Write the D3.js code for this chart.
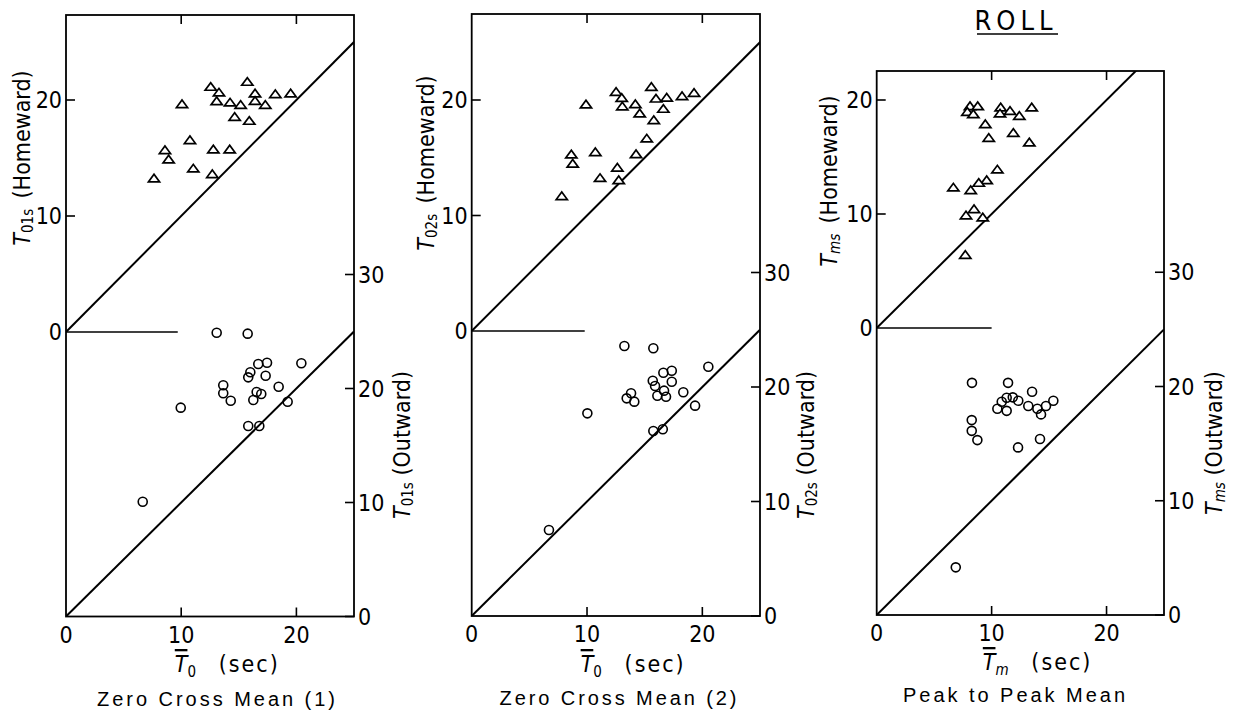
<!DOCTYPE html>
<html><head><meta charset="utf-8">
<script src="https://cdn.jsdelivr.net/npm/d3@7"></script>
<style>
body{margin:0;background:#fff}
svg{display:block}
text{font-family:"Liberation Sans Narrow","Arial Narrow","DejaVu Sans Condensed",sans-serif;fill:#000}
.nm{font-family:"Liberation Sans","Arial",sans-serif}
</style>
</head><body>
<svg id="c" width="1238" height="717"></svg>
<script>
// ---------- data ----------
const panelNames = ["Zero Cross Mean (1)", "Zero Cross Mean (2)", "Peak to Peak Mean"];
const ySubs = ["01s", "02s", "ms"];
const xSubs = ["0", "0", "m"];
const mainTitle = "ROLL";
const xTicks = [0, 10, 20];
const homeTicks = [0, 10, 20];
const outTicks = [0, 10, 20, 30];

// Panel 1: Zero Cross Mean (1)
const p1HomeX = [12.56,15.74,13.28,16.41,18.17,19.5,10.07,13.08,14.24,15.16,16.41,17.3,14.64,15.91,10.76,12.79,14.21,8.59,8.91,11.05,12.7,7.64];
const p1HomeY = [21.15,21.58,20.66,20.58,20.52,20.58,19.66,19.91,19.8,19.59,19.94,19.59,18.56,18.22,16.55,15.75,15.75,15.69,14.89,14.11,13.62,13.25];
const p1OutX = [13.08,15.77,16.69,17.45,20.43,16.0,15.82,17.33,13.65,18.46,13.65,16.55,16.95,14.3,16.26,19.24,9.96,15.82,16.78,6.66];
const p1OutY = [24.89,24.81,22.15,22.26,22.21,21.42,20.98,21.12,20.28,20.16,19.58,19.69,19.52,18.93,18.99,18.84,18.32,16.71,16.71,10.07];

// Panel 2: Zero Cross Mean (2)
const p2HomeX = [15.58,12.52,13.01,15.98,16.91,18.24,19.28,9.91,13.06,14.19,16.62,14.57,15.79,15.18,8.64,10.72,14.25,8.76,12.63,11.13,12.75,7.81];
const p2HomeY = [21.15,20.72,20.2,20.14,20.22,20.35,20.63,19.63,19.46,19.65,19.25,18.85,18.27,16.68,15.3,15.5,15.32,14.5,14.16,13.26,13.07,11.69];
const p2OutX = [13.24,15.75,16.62,17.35,20.52,15.7,15.9,17.35,16.68,18.35,13.82,13.44,14.1,16.1,16.85,19.37,10.03,15.75,16.57,6.7];
const p2OutY = [23.58,23.38,21.25,21.42,21.77,20.55,20.09,20.46,19.68,19.54,19.45,19.01,18.72,19.24,19.15,18.37,17.7,16.16,16.31,7.51];

// Panel 3: Peak to Peak Mean
const p3HomeX = [8.12,8.79,7.89,8.41,10.79,10.73,11.6,12.41,13.49,9.45,9.75,11.89,13.28,10.5,9.57,8.88,6.67,8.18,8.47,7.77,9.23,7.71];
const p3HomeY = [19.47,19.47,18.97,18.77,19.36,18.83,19.06,18.62,19.36,17.89,16.69,17.13,16.29,13.92,12.98,12.75,12.34,12.11,10.44,9.89,9.71,6.43];
const p3OutX = [8.29,11.43,13.52,11.31,11.84,10.88,12.32,10.5,11.31,13.19,13.98,14.73,15.37,14.3,8.27,8.27,8.76,14.21,12.3,6.88];
const p3OutY = [20.32,20.32,19.54,19.01,19.05,18.66,18.75,18.05,17.87,18.29,18.05,18.29,18.75,17.56,17.06,16.12,15.31,15.4,14.67,4.17];

const homeX = [p1HomeX, p2HomeX, p3HomeX];
const homeY = [p1HomeY, p2HomeY, p3HomeY];
const outX = [p1OutX, p2OutX, p3OutX];
const outY = [p1OutY, p2OutY, p3OutY];

// ---------- layout ----------
const layout = [
  {x0:66, x25:354, top:15, h0:332, h20:100, o0:616.5, o20:388.5, zeroLen:9.7,
   lTX:23, lTY:158, rTX:403, rTY:445, xTC:14, xTY:672, nX:216, nY:706, nW:238},
  {x0:471.7, x25:760, top:14, h0:331, h20:100, o0:616, o20:387, zeroLen:9.8,
   lTX:427, lTY:163, rTX:807, rTY:445, xTC:14, xTY:672, nX:618, nY:705, nW:237},
  {x0:876.7, x25:1164, top:71, h0:328, h20:100, o0:615, o20:386.5, zeroLen:10,
   lTX:830, lTY:181, rTX:1215, rTY:443, xTC:14, xTY:670, nX:1014, nY:702, nW:222}
];

const svg = d3.select("#c");
const defs = svg.append("defs");
const tri = "M-5.6,3.6L5.6,3.6L0,-4Z";

layout.forEach((L, i) => {
  const x = d3.scaleLinear().domain([0, 25]).range([L.x0, L.x25]);
  const yH = d3.scaleLinear().domain([0, 20]).range([L.h0, L.h20]);
  const yO = d3.scaleLinear().domain([0, 20]).range([L.o0, L.o20]);
  const g = svg.append("g");

  defs.append("clipPath").attr("id", "ch" + i).append("rect")
    .attr("x", L.x0).attr("y", L.top).attr("width", L.x25 - L.x0).attr("height", L.h0 - L.top);
  defs.append("clipPath").attr("id", "co" + i).append("rect")
    .attr("x", L.x0).attr("y", L.h0 - 3).attr("width", L.x25 - L.x0).attr("height", L.o0 - L.h0 + 3);

  g.append("rect").attr("x", L.x0).attr("y", L.top).attr("width", L.x25 - L.x0).attr("height", L.o0 - L.top)
    .attr("fill", "none").attr("stroke", "#000").attr("stroke-width", 1.8);

  g.append("line").attr("x1", x(0)).attr("x2", x(L.zeroLen)).attr("y1", yH(0)).attr("y2", yH(0))
    .attr("stroke", "#000").attr("stroke-width", 1.6);

  const line = (ys) => d3.line().x(d => x(d[0])).y(d => ys(d[1]));
  g.append("path").attr("d", line(yH)([[0,0],[30,30]])).attr("clip-path", `url(#ch${i})`)
    .attr("fill", "none").attr("stroke", "#000").attr("stroke-width", 2);
  g.append("path").attr("d", line(yO)([[0,0],[25,25]])).attr("clip-path", `url(#co${i})`)
    .attr("fill", "none").attr("stroke", "#000").attr("stroke-width", 2);

  const tk = 9;
  xTicks.filter(v => v > 0).forEach(v => {
    g.append("line").attr("x1", x(v)).attr("x2", x(v)).attr("y1", L.top).attr("y2", L.top + tk).attr("stroke", "#000").attr("stroke-width", 1.6);
    g.append("line").attr("x1", x(v)).attr("x2", x(v)).attr("y1", L.o0).attr("y2", L.o0 - tk).attr("stroke", "#000").attr("stroke-width", 1.6);
  });
  homeTicks.filter(v => v > 0).forEach(v => {
    g.append("line").attr("x1", L.x0).attr("x2", L.x0 + tk).attr("y1", yH(v)).attr("y2", yH(v)).attr("stroke", "#000").attr("stroke-width", 1.6);
  });
  outTicks.forEach(v => {
    g.append("line").attr("x1", L.x25).attr("x2", L.x25 - tk).attr("y1", yO(v)).attr("y2", yO(v)).attr("stroke", "#000").attr("stroke-width", 1.6);
  });

  g.selectAll(".xl").data(xTicks).enter().append("text")
    .attr("x", d => x(d)).attr("y", L.o0 + 26).attr("text-anchor", "middle")
    .attr("font-size", 23).text(d => d);
  g.selectAll(".hl").data(homeTicks).enter().append("text")
    .attr("x", L.x0 - 4).attr("y", d => yH(d) + 8).attr("text-anchor", "end")
    .attr("font-size", 23).text(d => d);
  g.selectAll(".ol").data(outTicks).enter().append("text")
    .attr("x", L.x25 + 4).attr("y", d => yO(d) + 8).attr("text-anchor", "start")
    .attr("font-size", 23).text(d => d);

  const lt = g.append("text").attr("transform", `translate(${L.lTX},${L.lTY}) rotate(-90)`)
    .attr("text-anchor", "middle").attr("dominant-baseline", "middle").attr("font-size", 23);
  lt.append("tspan").attr("font-style", "italic").text("T");
  lt.append("tspan").attr("font-size", 15).attr("dy", 5).attr("font-style", i === 2 ? "italic" : "normal").text(ySubs[i]);
  lt.append("tspan").attr("dy", -5).text("\u2002(Homeward)");

  const rt = g.append("text").attr("transform", `translate(${L.rTX},${L.rTY}) rotate(-90)`)
    .attr("text-anchor", "middle").attr("dominant-baseline", "middle").attr("font-size", 23);
  rt.append("tspan").attr("font-style", "italic").text("T");
  rt.append("tspan").attr("font-size", 15).attr("dy", 5).attr("font-style", i === 2 ? "italic" : "normal").text(ySubs[i]);
  rt.append("tspan").attr("dy", -5).text(" (Outward)");

  const xt = g.append("text").attr("x", x(L.xTC)).attr("y", L.xTY).attr("text-anchor", "middle").attr("font-size", 23);
  xt.append("tspan").attr("font-style", "italic").style("text-decoration", "overline").text("T");
  xt.append("tspan").attr("font-size", 15).attr("dy", 5).attr("font-style", i === 2 ? "italic" : "normal").text(xSubs[i]);
  xt.append("tspan").attr("dy", -5).attr("letter-spacing", 2).text("\u2003(sec)");

  g.append("text").attr("class", "nm").attr("x", L.nX).attr("y", L.nY).attr("text-anchor", "middle")
    .attr("font-size", 20).attr("textLength", L.nW).attr("lengthAdjust", "spacing").text(panelNames[i]);

  g.selectAll(".tri").data(homeX[i].map((v, k) => [v, homeY[i][k]])).enter().append("path")
    .attr("d", tri).attr("transform", d => `translate(${x(d[0])},${yH(d[1])})`)
    .attr("fill", "#fff").attr("stroke", "#000").attr("stroke-width", 1.7);
  g.selectAll(".cir").data(outX[i].map((v, k) => [v, outY[i][k]])).enter().append("circle")
    .attr("cx", d => x(d[0])).attr("cy", d => yO(d[1])).attr("r", 4.5)
    .attr("fill", "none").attr("stroke", "#000").attr("stroke-width", 1.6);
});

svg.append("text").attr("x", 1016).attr("y", 30).attr("text-anchor", "middle")
  .attr("font-size", 27).attr("letter-spacing", 5).text(mainTitle);
svg.append("line").attr("x1", 977).attr("x2", 1058).attr("y1", 34).attr("y2", 34)
  .attr("stroke", "#000").attr("stroke-width", 1.6);
</script>
</body></html>
